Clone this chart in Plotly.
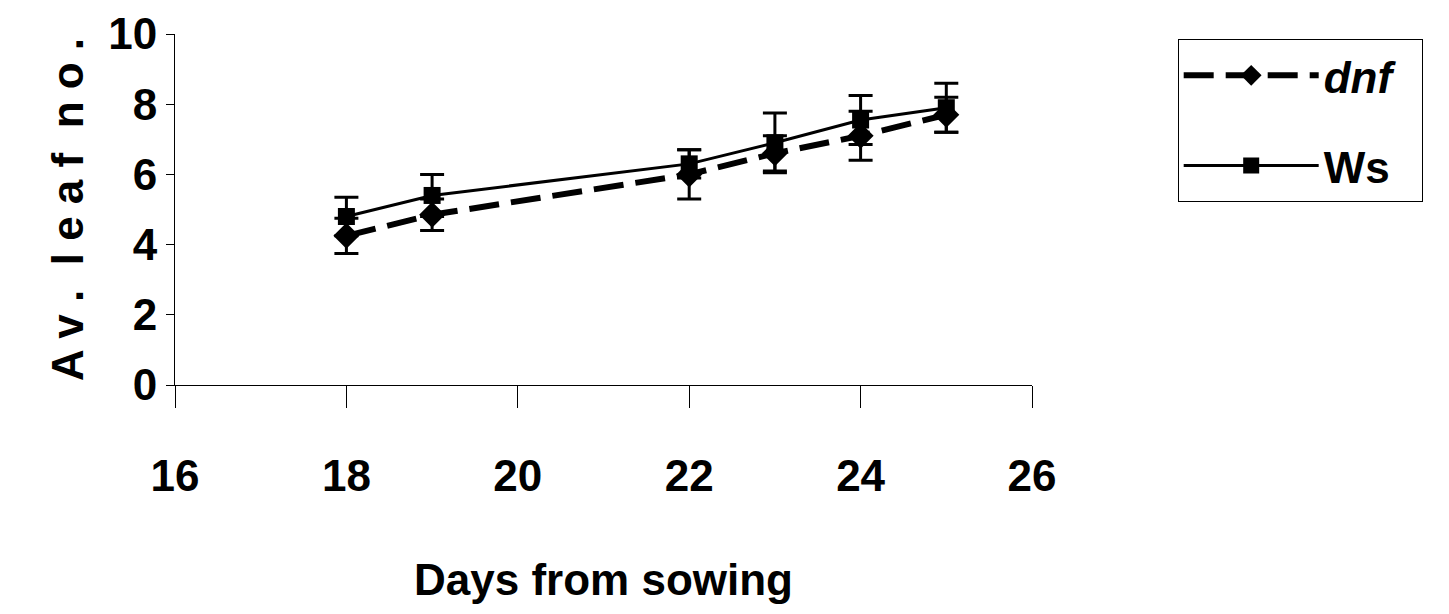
import plotly.graph_objects as go

days = [18, 19, 22, 23, 24, 25]
dnf = [4.25, 4.85, 6.0, 6.6, 7.1, 7.7]
dnf_err = [0.5, 0.45, 0.7, 0.5, 0.7, 0.5]
ws = [4.8, 5.4, 6.3, 6.9, 7.55, 7.9]
ws_err = [0.55, 0.6, 0.4, 0.85, 0.7, 0.7]

fam = "Liberation Sans, Arial"

fig = go.Figure()
fig.add_trace(go.Scatter(
    x=days, y=dnf, name="<i>dnf</i>  ", mode="lines+markers", legendgroup="a",
    line=dict(color="black", width=6, dash="30px,12px"),
    marker=dict(symbol="diamond", size=20, color="black"),
    error_y=dict(type="data", array=dnf_err, color="black", thickness=3, width=12),
))
fig.add_trace(go.Scatter(
    x=days, y=ws, name="Ws", mode="lines+markers", legendgroup="b",
    line=dict(color="black", width=3),
    marker=dict(symbol="square", size=17, color="black"),
    error_y=dict(type="data", array=ws_err, color="black", thickness=3, width=12),
))

fig.update_layout(
    width=1449, height=614,
    margin=dict(l=167, r=425, t=26, b=237, autoexpand=False),
    plot_bgcolor="white", paper_bgcolor="white",
    font=dict(family=fam, color="black"),
    legend=dict(x=1.17, y=0.985, xanchor="left", yanchor="top",
                bordercolor="black", borderwidth=1,
                font=dict(family=fam, size=44, color="black", weight="bold"),
                itemwidth=135, tracegroupgap=30),
)
fig.update_xaxes(
    range=[16, 26], dtick=2, showgrid=False, zeroline=False,
    showline=True, linecolor="black", linewidth=1,
    ticks="outside", ticklen=22, tickcolor="black",
    ticklabelstandoff=30,
    tickfont=dict(family=fam, size=44, weight="bold"),
    title=dict(text="<b>Days from sowing</b>", font=dict(size=44), standoff=65),
)
fig.update_yaxes(
    range=[0, 10], dtick=2, showgrid=False, zeroline=False,
    showline=True, linecolor="black", linewidth=1,
    ticks="outside", ticklen=8, tickcolor="black",
    tickfont=dict(family=fam, size=44, weight="bold"),
    title=dict(text="<b>A v .  l e a f  n o .</b>", font=dict(size=44), standoff=10),
)

fig.write_html("out.html")
